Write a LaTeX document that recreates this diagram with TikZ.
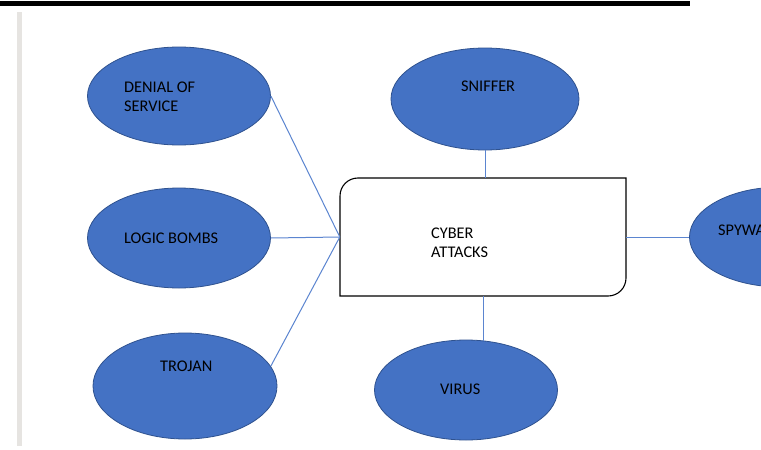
\documentclass[tikz,border=0pt]{standalone}
\usepackage{fontspec}
\setmainfont{Carlito}
\usetikzlibrary{shapes.geometric,calc}
\definecolor{blobfill}{HTML}{4472C4}
\definecolor{blobedge}{HTML}{2F528F}
\definecolor{linkblue}{HTML}{5B85D0}
\definecolor{rulegray}{HTML}{E6E4E1}
\tikzset{
  blob/.style={ellipse, fill=blobfill, draw=blobedge, line width=0.8pt, inner sep=0pt},
  lbl/.style={font=\fontsize{16.3}{18.8}\selectfont, text=black, inner sep=0pt, align=left},
  link/.style={draw=linkblue, line width=1pt},
  boxline/.style={draw=black, line width=1.1pt}
}
\begin{document}
\begin{tikzpicture}[x=1pt,y=-1pt]
\useasboundingbox (0,0) rectangle (761,450);
\clip (0,0) rectangle (761,450);
\fill[white] (0,0) rectangle (761,450);
% top bar and left rule
\fill[black] (0,1) rectangle (690,6);
\fill[rulegray] (16.5,12) rectangle (22,446);

% central box (anchor node)
\node[minimum width=286pt, minimum height=118pt, inner sep=0pt] (box) at (483,237) {};
\draw[boxline] (340,196) .. controls (340,186) and (348,178) .. (358,178)
  -- (626,178) -- (626,278) .. controls (626,288) and (618,296) .. (608,296)
  -- (340,296) -- cycle;
\node[lbl, anchor=west] (boxt) at (431,243) {CYBER\\ATTACKS};

% ellipses
\node[blob, minimum width=183pt, minimum height=98pt] (dos) at (179,96) {};
\node[blob, minimum width=183pt, minimum height=100pt] (logic) at (179,238) {};
\node[blob, minimum width=184pt, minimum height=106pt] (troj) at (185,386) {};
\node[blob, minimum width=188pt, minimum height=102pt] (sniff) at (485,99) {};
\node[blob, minimum width=183pt, minimum height=100pt] (virus) at (466,390) {};
\node[blob, minimum width=183pt, minimum height=100pt] (spy) at (781,237) {};

% labels
\node[lbl, anchor=west] (dost) at (124,97) {DENIAL OF\\SERVICE};
\node[lbl, anchor=west] (logict) at (124,238) {LOGIC BOMBS};
\node[lbl, anchor=west] (trojt) at (160,366) {TROJAN};
\node[lbl, anchor=west] (snifft) at (461,86) {SNIFFER};
\node[lbl, anchor=west] (virust) at (440,389) {VIRUS};
\node[lbl, anchor=west] (spyt) at (718,230) {SPYWARE};

% connectors
\draw[link] (dos.east) -- (box.west);
\draw[link] (logic.east) -- (box.west);
\draw[link] (troj.13) -- (box.west);
\draw[link] (sniff.south) -- (sniff.south |- box.north);
\draw[link] (box.south) -- ($(box.south |- virus.north)+(0,1.5)$);
\draw[link] (box.east) -- (spy.west);
\end{tikzpicture}
\end{document}
